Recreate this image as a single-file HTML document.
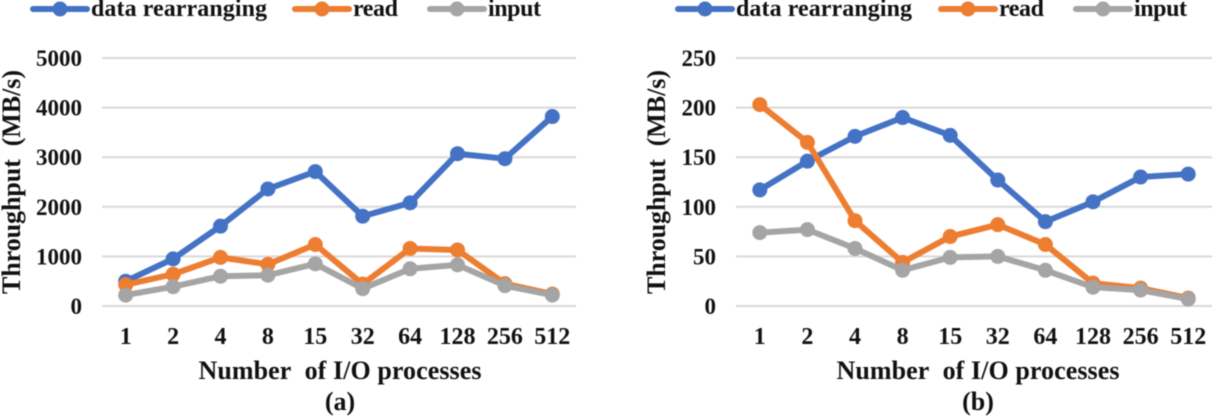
<!DOCTYPE html>
<html lang="en">
<head>
<meta charset="utf-8">
<title>Throughput vs I/O processes</title>
<style>
html,body{margin:0;padding:0;background:#fff;width:1221px;height:416px;overflow:hidden}
svg{display:block}
text{font-family:"Liberation Serif",serif;font-weight:bold;fill:#111}
#art{filter:blur(.6px)}
</style>
</head>
<body>
<svg id="chart" width="1221" height="416" viewBox="0 0 1221 416" xmlns="http://www.w3.org/2000/svg"><g id="art"></g></svg>
<script>
const categories = ['1','2','4','8','15','32','64','128','256','512'];
const seriesNames = ['data rearranging','read','input'];
const seriesColors = ['#4472c4','#ed7d31','#a5a5a5'];
const ticksA = [0,1000,2000,3000,4000,5000];
const ticksB = [0,50,100,150,200,250];
const dataA = [500,950,1610,2360,2710,1810,2080,3070,2970,3820];
const readA = [430,640,980,840,1240,440,1160,1130,450,240];
const inputA = [220,390,600,620,850,350,750,830,410,220];
const dataB = [117,146,171,190,172,127,85,105,130,133];
const readB = [203,165,86,44,70,82,62,23,18,8];
const inputB = [74,77,58,36,49,50,36,19,16,7];

const NS = 'http://www.w3.org/2000/svg';
const root = document.getElementById('art');

function make(tag, attrs, parent, content) {
  const el = document.createElementNS(NS, tag);
  for (const k in attrs) el.setAttribute(k, attrs[k]);
  if (content !== undefined) el.textContent = content;
  parent.appendChild(el);
  return el;
}

function drawPanel(cfg) {
  const panel = make('g', {}, root);
  
  

  const maxTick = cfg.ticks[cfg.ticks.length - 1];
  const y0 = 306, yTop = 58;
  const yScale = v => y0 - (v / maxTick) * (y0 - yTop);
  const step = (cfg.right - cfg.left) / categories.length;
  const xScale = i => cfg.left + step * (i + 0.5);

  cfg.ticks.forEach(t => {
    const grid = make('line', {x1: cfg.left, x2: cfg.right, y1: yScale(t), y2: yScale(t), stroke: '#d9d9d9', 'stroke-width': 2}, panel);
    
    
    const label = make('text', {x: cfg.left - 20, y: yScale(t) + 8, 'text-anchor': 'end', 'font-size': 23}, panel, String(t));
    
    
  });

  categories.forEach((c, i) => {
    const label = make('text', {x: xScale(i), y: 344, 'text-anchor': 'middle', 'font-size': 24}, panel, c);
    
    
  });

  cfg.series.forEach((vals, s) => {
    const group = make('g', {}, panel);
    
    
    const pts = vals.map((v, i) => xScale(i) + ',' + yScale(v)).join(' ');
    const line = make('polyline', {points: pts, fill: 'none', stroke: seriesColors[s], 'stroke-width': 6, 'stroke-linejoin': 'round', 'stroke-linecap': 'round'}, group);
    
    
    vals.forEach((v, i) => {
      const dot = make('circle', {cx: xScale(i), cy: yScale(v), r: 7.5, fill: seriesColors[s]}, group);
      
      
    });
  });

  seriesNames.forEach((name, s) => {
    const lx = cfg.legendX[s];
    const item = make('g', {}, panel);
    
    
    make('line', {x1: lx, x2: lx + 54, y1: 9, y2: 9, stroke: seriesColors[s], 'stroke-width': 6, 'stroke-linecap': 'round'}, item);
    make('circle', {cx: lx + 27, cy: 9, r: 7.5, fill: seriesColors[s]}, item);
    make('text', {x: lx + 58, y: 16, 'font-size': 24, textLength: cfg.legendW[s], lengthAdjust: 'spacing'}, item, name);
  });

  const yTitle = make('text', {transform: 'translate(' + cfg.yTitleX + ',182) rotate(-90)', 'text-anchor': 'middle', 'font-size': 26, textLength: 224, lengthAdjust: 'spacing'}, panel, 'Throughput\u00a0 (MB/s)');
  
  

  const xTitle = make('text', {x: cfg.xTitleX, y: 379, 'text-anchor': 'middle', 'font-size': 26, textLength: 283, lengthAdjust: 'spacing'}, panel, 'Number\u00a0 of I/O processes');
  
  

  const caption = make('text', {x: cfg.xTitleX, y: 410, 'text-anchor': 'middle', 'font-size': 26}, panel, cfg.caption);
  
  
}

drawPanel({
  id: 'a', left: 102, right: 576, ticks: ticksA, series: [dataA, readA, inputA],
  legendX: [33, 295, 430], legendW: [176, 45, 53],
  yTitleX: 20, xTitleX: 340, caption: '(a)'
});
drawPanel({
  id: 'b', left: 736, right: 1212, ticks: ticksB, series: [dataB, readB, inputB],
  legendX: [678, 941, 1076], legendW: [176, 45, 53],
  yTitleX: 665, xTitleX: 978, caption: '(b)'
});
</script>
</body>
</html>
